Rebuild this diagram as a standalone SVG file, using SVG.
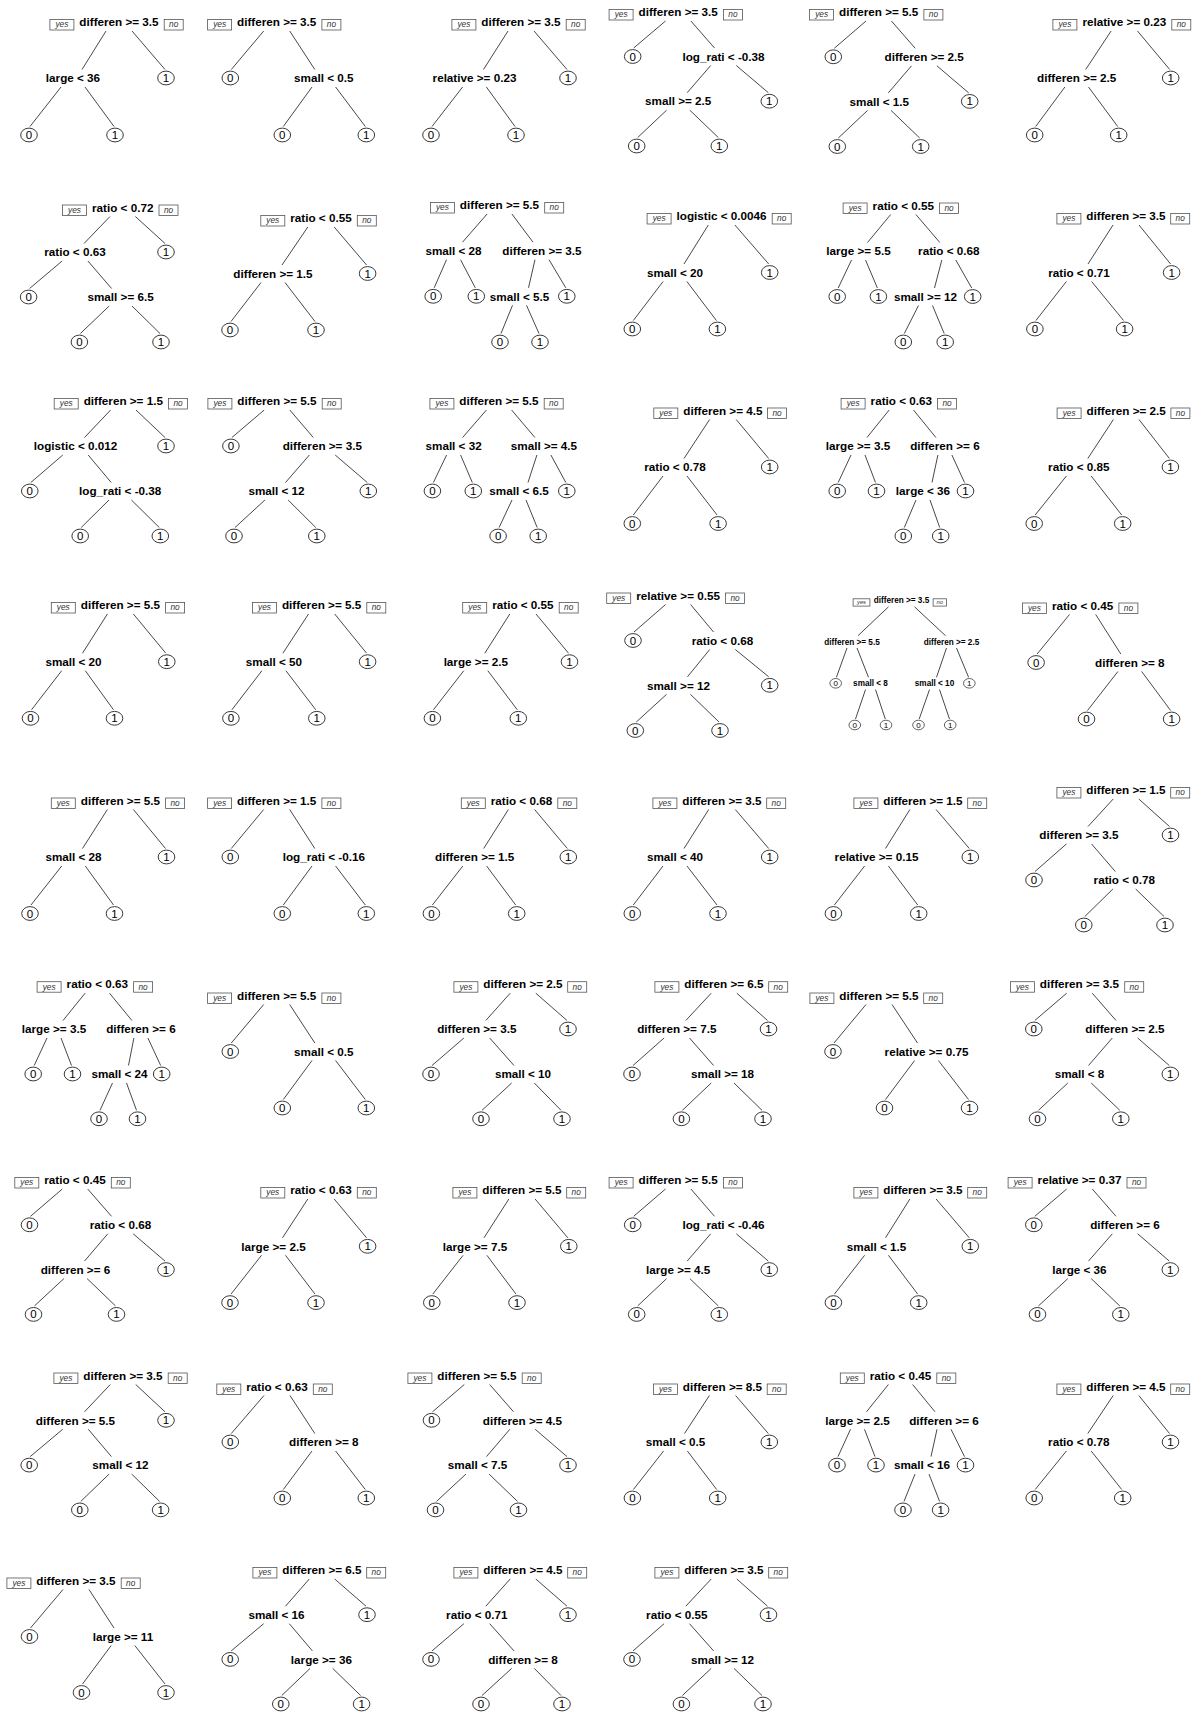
<svg xmlns="http://www.w3.org/2000/svg" xmlns:xlink="http://www.w3.org/1999/xlink" width="1192" height="1714" viewBox="0 0 1192 1714">
<style>
.sp{font-family:"Liberation Sans",Arial,sans-serif;font-weight:bold;font-size:11.7px;text-anchor:middle;fill:#000}
.ss{font-family:"Liberation Sans",Arial,sans-serif;font-weight:bold;font-size:8.2px;text-anchor:middle;fill:#000}
.y{fill:#fff;stroke:#555;stroke-width:0.8}
.t{font-family:"Liberation Sans",Arial,sans-serif;font-style:italic;font-size:8.3px;text-anchor:middle;fill:#333}
.ts{font-family:"Liberation Sans",Arial,sans-serif;font-style:italic;font-size:5.8px;text-anchor:middle;fill:#333}
#connectors path{fill:none;stroke:#333;stroke-width:0.9}
</style>
<defs>
<g id="L0"><ellipse rx="8.3" ry="6.9" fill="#fff" stroke="#222" stroke-width="0.9"/><text y="4" font-family="Liberation Sans, Arial, sans-serif" font-size="11.5" text-anchor="middle" fill="#000">0</text></g>
<g id="L1"><ellipse rx="8.3" ry="6.9" fill="#fff" stroke="#222" stroke-width="0.9"/><text y="4" font-family="Liberation Sans, Arial, sans-serif" font-size="11.5" text-anchor="middle" fill="#000">1</text></g>
<g id="S0"><ellipse rx="5.8" ry="4.8" fill="#fff" stroke="#222" stroke-width="0.7"/><text y="2.9" font-family="Liberation Sans, Arial, sans-serif" font-size="8" text-anchor="middle" fill="#000">0</text></g>
<g id="S1"><ellipse rx="5.8" ry="4.8" fill="#fff" stroke="#222" stroke-width="0.7"/><text y="2.9" font-family="Liberation Sans, Arial, sans-serif" font-size="8" text-anchor="middle" fill="#000">1</text></g>
</defs>
<rect width="1192" height="1714" fill="#fff"/>
<g id="connectors">
<path id="e1" d="M106 31L82 69.5M132 31L165 69.5M61 87L30 126.5M85 87L114 126.5"/>
<path id="e2" d="M263.7 31L231.3 69.5M289.7 31L314.8 69.5M312 87L283.3 126.5M335.6 87L365.3 126.5"/>
<path id="e3" d="M508 31L483.5 69.5M534 31L567 69.5M462.6 87L432 126.5M486.4 87L515 126.5"/>
<path id="e4" d="M665.5 21L633.7 48M690.9 21L714.5 48M710.7 65.5L687.2 92.7M736.3 65.5L768.3 92.7M666.6 110.2L637.7 137.5M689.8 110.2L718.3 137.5"/>
<path id="e5" d="M866 21L834.3 48.3M891.4 21L915.2 48.3M911.5 65.8L888.3 92.9M936.9 65.8L968.7 92.9M867.6 110.4L838.3 138M891 110.4L919.7 138"/>
<path id="e6" d="M1111.1 31L1085.7 69.5M1137.5 31L1169.7 69.5M1064.9 87L1035.7 126.5M1088.5 87L1117.7 126.5"/>
<path id="e7" d="M110 216.5L84 243.5M135.4 216.5L165 243.5M62.1 261L29.6 288.5M87.9 261L111.6 288.5M109.2 306L80.4 333.5M132 306L160 333.5"/>
<path id="e8" d="M307.8 227L282 265M334.2 227L366.6 265M261 282.5L231 321.5M285 282.5L315 321.5"/>
<path id="e9" d="M487.1 214L462.5 242.2M511.9 214L533 242.2M446.5 259.7L434.2 287.8M460.5 259.7L475.3 287.8M535 259.7L528.5 287.8M549 259.7L565.8 287.8M512.5 305.3L501 333.5M526.5 305.3L539 333.5"/>
<path id="e10" d="M708.3 225L684 264M734.9 225L768.7 264M663.1 281.5L633.3 320.5M686.9 281.5L716.4 320.5"/>
<path id="e11" d="M890.7 214.5L867.5 242.5M915.9 214.5L939.8 242.5M851.5 260L838.2 288M865.5 260L877.4 288M941.8 260L934.5 288M955.8 260L971.7 288M918.5 305.5L904.3 333.5M932.5 305.5L944.2 333.5"/>
<path id="e12" d="M1113 225L1088 264M1139 225L1170.6 264M1066.4 281.5L1035.9 320.5M1091.6 281.5L1123.6 320.5"/>
<path id="e13" d="M110.6 410L84.5 437.5M136 410L165 437.5M62.8 455L30.8 482.5M88.2 455L111.2 482.5M109 500L81.2 527.5M131.4 500L159.3 527.5"/>
<path id="e14" d="M264.2 410L231.9 437.5M289.8 410L313.3 437.5M309.4 455L285.5 482.5M335.2 455L367.3 482.5M264.9 500L235 527.5M288.1 500L315.8 527.5"/>
<path id="e15" d="M486.4 410L462.6 437.5M511.6 410L534.9 437.5M446.6 455L433.4 482.5M460.6 455L472.3 482.5M536.9 455L528 482.5M550.9 455L565.8 482.5M512 500L499.1 527.5M526 500L537.2 527.5"/>
<path id="e16" d="M709.6 419.5L684 458.5M736.2 419.5L768.7 458.5M663 476L633.3 515M687 476L717.1 515"/>
<path id="e17" d="M889.1 410L867 437.5M913.5 410L935.9 437.5M851 455L838.2 482.5M865 455L875.5 482.5M937.9 455L932 482.5M951.9 455L964.5 482.5M916 500L904.3 527.5M930 500L939.7 527.5"/>
<path id="e18" d="M1113.4 419.5L1087.8 458.5M1139 419.5L1169.4 458.5M1066.4 476L1035.2 515M1091.2 476L1121.7 515"/>
<path id="e19" d="M107.4 614L82.5 653.2M133.4 614L165.8 653.2M61.7 670.7L31.5 709.8M85.3 670.7L113.5 709.8"/>
<path id="e20" d="M308.5 614L282.9 653.2M334.7 614L366.6 653.2M261.9 670.7L231.9 709.8M285.9 670.7L315.8 709.8"/>
<path id="e21" d="M509.8 614L484.8 653.2M536 614L568.5 653.2M463.8 670.7L433.4 709.8M487.8 670.7L517.3 709.8"/>
<path id="e22" d="M665.6 604.5L634 632M690.6 604.5L713.5 632M709.7 649.5L687.5 676.8M735.3 649.5L768.7 676.8M666.6 694.3L636.3 722M690.4 694.3L719 722"/>
<path id="e23" d="M888.5 606.8L858 635.7M914.5 606.8L945.5 635.7M847 648L836.4 677.3M857 648L868.5 677.3M946.5 648L936.5 677.3M956.5 648L968.6 677.3M865.5 689.6L855.5 719M875.5 689.6L885.3 719M929.5 689.6L919.2 719M939.5 689.6L949.5 719"/>
<path id="e24" d="M1069.5 614.5L1037.1 654M1095.7 614.5L1120.8 654M1117.9 671.5L1087.5 710.5M1141.7 671.5L1170.6 710.5"/>
<path id="e25" d="M107.4 809.5L82.5 848.5M133.4 809.5L165.5 848.5M61.7 866L31 905M85.3 866L113.5 905"/>
<path id="e26" d="M263.7 809.5L231.3 848.5M289.7 809.5L314.8 848.5M312 866L283.3 905M335.6 866L365.3 905"/>
<path id="e27" d="M508.4 809.5L483.7 848.5M534.6 809.5L567.3 848.5M462.8 866L432.4 905M486.6 866L515.7 905"/>
<path id="e28" d="M708.7 809.5L684 848.5M735.3 809.5L768.7 848.5M663 866L633.3 905M687 866L717 905"/>
<path id="e29" d="M909.9 809.5L885.5 848.5M936.1 809.5L969.3 848.5M864.6 866L834.4 905M888.4 866L917.7 905"/>
<path id="e30" d="M1113.2 799L1088 826.5M1138.8 799L1169.5 826.5M1066.4 844L1035 871.5M1091.6 844L1115.3 871.5M1112.9 889L1084.8 916.5M1135.7 889L1164 916.5"/>
<path id="e31" d="M85.1 993.2L63 1020.5M109.5 993.2L131.9 1020.5M47 1038L34.2 1065.5M61 1038L71.5 1065.5M133.9 1038L128.5 1065.5M147.9 1038L160.7 1065.5M112.5 1083L100 1110.3M126.5 1083L136.5 1110.3"/>
<path id="e32" d="M263.7 1004.5L231.3 1043M289.7 1004.5L314.8 1043M312 1060.5L283.3 1099.5M335.6 1060.5L365.3 1099.5"/>
<path id="e33" d="M510.2 993.2L485.8 1020.5M535.8 993.2L567 1020.5M463.9 1038L432 1065.5M489.7 1038L514 1065.5M511.7 1083L482 1110.3M534.3 1083L561 1110.3"/>
<path id="e34" d="M711.2 993.2L685.8 1020.5M736.8 993.2L767.5 1020.5M664.1 1038L633 1065.5M689.5 1038L713.6 1065.5M711.2 1083L682.4 1110.3M734 1083L762 1110.3"/>
<path id="e35" d="M866 1004.5L834 1043M892 1004.5L917.5 1043M914.6 1060.5L885.5 1099.5M938.4 1060.5L968.5 1099.5"/>
<path id="e36" d="M1066.7 993.2L1034.8 1020.5M1092.3 993.2L1116 1020.5M1112.3 1038L1088.5 1065.5M1137.7 1038L1169.3 1065.5M1067.8 1083L1038.5 1110.3M1091.2 1083L1119.8 1110.3"/>
<path id="e37" d="M62.3 1189L30.5 1216.3M87.7 1189L111.5 1216.3M107.8 1233.8L84.5 1261.1M133.2 1233.8L165 1261.1M63.9 1278.6L34.5 1305.9M87.1 1278.6L115.5 1305.9"/>
<path id="e38" d="M307.8 1199L282.5 1237.8M334.2 1199L366.6 1237.8M261.5 1255.3L231 1294.1M285.5 1255.3L315 1294.1"/>
<path id="e39" d="M508.9 1199L484 1237.8M535.1 1199L567.8 1237.8M463.1 1255.3L432.8 1294.1M486.9 1255.3L516 1294.1"/>
<path id="e40" d="M665.5 1189L633.7 1216.3M690.9 1189L714.5 1216.3M710.7 1233.8L687.2 1261.1M736.3 1233.8L768.3 1261.1M666.6 1278.6L637.7 1305.9M689.8 1278.6L718.3 1305.9"/>
<path id="e41" d="M909.9 1199L885.5 1237.8M936.1 1199L969.3 1237.8M864.6 1255.3L834.4 1294.1M888.4 1255.3L917.7 1294.1"/>
<path id="e42" d="M1066.7 1189L1034.8 1216.3M1092.3 1189L1116 1216.3M1112.3 1233.8L1088.5 1261.1M1137.7 1233.8L1169.3 1261.1M1067.8 1278.6L1038.5 1305.9M1091.2 1278.6L1119.8 1305.9"/>
<path id="e43" d="M110.3 1384.5L84.5 1411.8M135.7 1384.5L165 1411.8M62.7 1429.3L30.2 1456.6M88.3 1429.3L111.4 1456.6M109.1 1474.1L80.8 1501.4M131.7 1474.1L159.6 1501.4"/>
<path id="e44" d="M264 1395.5L231.3 1433.5M290 1395.5L314.8 1433.5M312 1451L283.3 1489.5M335.6 1451L365.3 1489.5"/>
<path id="e45" d="M464.3 1384.5L432.5 1411.8M489.7 1384.5L513.5 1411.8M509.8 1429.3L486.5 1456.6M535.2 1429.3L567 1456.6M465.9 1474.1L436.5 1501.4M489.1 1474.1L517.5 1501.4"/>
<path id="e46" d="M709.4 1395.5L684.5 1433.5M735.6 1395.5L768.3 1433.5M663.6 1451L633.4 1489.5M687.4 1451L716.7 1489.5"/>
<path id="e47" d="M888.4 1384.5L866.5 1411.8M912.6 1384.5L935 1411.8M850.5 1429.3L838 1456.6M864.5 1429.3L875 1456.6M937 1429.3L931 1456.6M951 1429.3L964.5 1456.6M915 1474.1L904 1501.4M929 1474.1L939.6 1501.4"/>
<path id="e48" d="M1113.2 1395.5L1087.8 1433.5M1138.8 1395.5L1169.5 1433.5M1066.4 1451L1035.2 1489.5M1091.2 1451L1121.7 1489.5"/>
<path id="e49" d="M63 1589.5L30.5 1628M89 1589.5L114 1628M111.2 1645.5L82.5 1684M134.8 1645.5L165 1684"/>
<path id="e50" d="M309.3 1579L285.5 1606.2M334.7 1579L366 1606.2M263.7 1623.7L231.2 1650.9M289.3 1623.7L312.4 1650.9M310.1 1668.4L281.8 1695.5M332.7 1668.4L360.6 1695.5"/>
<path id="e51" d="M510.2 1579L485.8 1606.2M535.8 1579L567 1606.2M463.9 1623.7L432 1650.9M489.7 1623.7L514 1650.9M511.7 1668.4L482 1695.5M534.3 1668.4L561 1695.5"/>
<path id="e52" d="M711.2 1579L685.8 1606.2M736.8 1579L767.5 1606.2M664.1 1623.7L633 1650.9M689.5 1623.7L713.6 1650.9M711.2 1668.4L682.4 1695.5M734 1668.4L762 1695.5"/>
</g>

<g id="t1">
<g id="t1-1"><rect class="y" x="49.9" y="19.5" width="24" height="10.5"/><text class="t" x="61.9" y="27.3">yes</text><text class="sp" x="119" y="26.2">differen &gt;= 3.5</text><rect class="y" x="164.2" y="19.5" width="19" height="10.5"/><text class="t" x="173.7" y="27.3">no</text></g>
<g id="t1-2"><text class="sp" x="73" y="82.2">large &lt; 36</text></g>
<g id="t1-3"><use href="#L1" x="166" y="78"/></g>
<g id="t1-4"><use href="#L0" x="29" y="135"/></g>
<g id="t1-5"><use href="#L1" x="115" y="135"/></g>
</g>
<g id="t2">
<g id="t2-1"><rect class="y" x="207.6" y="19.5" width="24" height="10.5"/><text class="t" x="219.6" y="27.3">yes</text><text class="sp" x="276.7" y="26.2">differen &gt;= 3.5</text><rect class="y" x="321.9" y="19.5" width="19" height="10.5"/><text class="t" x="331.4" y="27.3">no</text></g>
<g id="t2-2"><use href="#L0" x="230.3" y="78"/></g>
<g id="t2-3"><text class="sp" x="323.8" y="82.2">small &lt; 0.5</text></g>
<g id="t2-4"><use href="#L0" x="282.3" y="135"/></g>
<g id="t2-5"><use href="#L1" x="366.3" y="135"/></g>
</g>
<g id="t3">
<g id="t3-1"><rect class="y" x="451.9" y="19.5" width="24" height="10.5"/><text class="t" x="463.9" y="27.3">yes</text><text class="sp" x="521" y="26.2">differen &gt;= 3.5</text><rect class="y" x="566.2" y="19.5" width="19" height="10.5"/><text class="t" x="575.7" y="27.3">no</text></g>
<g id="t3-2"><text class="sp" x="474.5" y="82.2">relative &gt;= 0.23</text></g>
<g id="t3-3"><use href="#L1" x="568" y="78"/></g>
<g id="t3-4"><use href="#L0" x="431" y="135"/></g>
<g id="t3-5"><use href="#L1" x="516" y="135"/></g>
</g>
<g id="t4">
<g id="t4-1"><rect class="y" x="609.1" y="9.5" width="24" height="10.5"/><text class="t" x="621.1" y="17.3">yes</text><text class="sp" x="678.2" y="16.2">differen &gt;= 3.5</text><rect class="y" x="723.4" y="9.5" width="19" height="10.5"/><text class="t" x="732.9" y="17.3">no</text></g>
<g id="t4-2"><use href="#L0" x="632.7" y="56.5"/></g>
<g id="t4-3"><text class="sp" x="723.5" y="60.7">log_rati &lt; -0.38</text></g>
<g id="t4-4"><text class="sp" x="678.2" y="105.4">small &gt;= 2.5</text></g>
<g id="t4-5"><use href="#L1" x="769.3" y="101.2"/></g>
<g id="t4-6"><use href="#L0" x="636.7" y="146"/></g>
<g id="t4-7"><use href="#L1" x="719.3" y="146"/></g>
</g>
<g id="t5">
<g id="t5-1"><rect class="y" x="809.6" y="9.5" width="24" height="10.5"/><text class="t" x="821.6" y="17.3">yes</text><text class="sp" x="878.7" y="16.2">differen &gt;= 5.5</text><rect class="y" x="923.9" y="9.5" width="19" height="10.5"/><text class="t" x="933.4" y="17.3">no</text></g>
<g id="t5-2"><use href="#L0" x="833.3" y="56.8"/></g>
<g id="t5-3"><text class="sp" x="924.2" y="61">differen &gt;= 2.5</text></g>
<g id="t5-4"><text class="sp" x="879.3" y="105.6">small &lt; 1.5</text></g>
<g id="t5-5"><use href="#L1" x="969.7" y="101.4"/></g>
<g id="t5-6"><use href="#L0" x="837.3" y="146.5"/></g>
<g id="t5-7"><use href="#L1" x="920.7" y="146.5"/></g>
</g>
<g id="t6">
<g id="t6-1"><rect class="y" x="1052.9" y="19.5" width="24" height="10.5"/><text class="t" x="1064.9" y="27.3">yes</text><text class="sp" x="1124.3" y="26.2">relative &gt;= 0.23</text><rect class="y" x="1171.8" y="19.5" width="19" height="10.5"/><text class="t" x="1181.3" y="27.3">no</text></g>
<g id="t6-2"><text class="sp" x="1076.7" y="82.2">differen &gt;= 2.5</text></g>
<g id="t6-3"><use href="#L1" x="1170.7" y="78"/></g>
<g id="t6-4"><use href="#L0" x="1034.7" y="135"/></g>
<g id="t6-5"><use href="#L1" x="1118.7" y="135"/></g>
</g>

<g id="t7">
<g id="t7-1"><rect class="y" x="62.5" y="205" width="24" height="10.5"/><text class="t" x="74.5" y="212.8">yes</text><text class="sp" x="122.7" y="211.7">ratio &lt; 0.72</text><rect class="y" x="159" y="205" width="19" height="10.5"/><text class="t" x="168.5" y="212.8">no</text></g>
<g id="t7-2"><text class="sp" x="75" y="256.2">ratio &lt; 0.63</text></g>
<g id="t7-3"><use href="#L1" x="166" y="252"/></g>
<g id="t7-4"><use href="#L0" x="28.6" y="297"/></g>
<g id="t7-5"><text class="sp" x="120.6" y="301.2">small &gt;= 6.5</text></g>
<g id="t7-6"><use href="#L0" x="79.4" y="342"/></g>
<g id="t7-7"><use href="#L1" x="161" y="342"/></g>
</g>
<g id="t8">
<g id="t8-1"><rect class="y" x="260.8" y="215.5" width="24" height="10.5"/><text class="t" x="272.8" y="223.3">yes</text><text class="sp" x="321" y="222.2">ratio &lt; 0.55</text><rect class="y" x="357.3" y="215.5" width="19" height="10.5"/><text class="t" x="366.8" y="223.3">no</text></g>
<g id="t8-2"><text class="sp" x="273" y="277.7">differen &gt;= 1.5</text></g>
<g id="t8-3"><use href="#L1" x="367.6" y="273.5"/></g>
<g id="t8-4"><use href="#L0" x="230" y="330"/></g>
<g id="t8-5"><use href="#L1" x="316" y="330"/></g>
</g>
<g id="t9">
<g id="t9-1"><rect class="y" x="430.4" y="202.5" width="24" height="10.5"/><text class="t" x="442.4" y="210.3">yes</text><text class="sp" x="499.5" y="209.2">differen &gt;= 5.5</text><rect class="y" x="544.7" y="202.5" width="19" height="10.5"/><text class="t" x="554.2" y="210.3">no</text></g>
<g id="t9-2"><text class="sp" x="453.5" y="254.9">small &lt; 28</text></g>
<g id="t9-3"><text class="sp" x="542" y="254.9">differen &gt;= 3.5</text></g>
<g id="t9-4"><use href="#L0" x="433.2" y="296.3"/></g>
<g id="t9-5"><use href="#L1" x="476.3" y="296.3"/></g>
<g id="t9-6"><text class="sp" x="519.5" y="300.5">small &lt; 5.5</text></g>
<g id="t9-7"><use href="#L1" x="566.8" y="296.3"/></g>
<g id="t9-8"><use href="#L0" x="500" y="342"/></g>
<g id="t9-9"><use href="#L1" x="540" y="342"/></g>
</g>
<g id="t10">
<g id="t10-1"><rect class="y" x="647.1" y="213.5" width="24" height="10.5"/><text class="t" x="659.1" y="221.3">yes</text><text class="sp" x="721.6" y="220.2">logistic &lt; 0.0046</text><rect class="y" x="772.2" y="213.5" width="19" height="10.5"/><text class="t" x="781.7" y="221.3">no</text></g>
<g id="t10-2"><text class="sp" x="675" y="276.7">small &lt; 20</text></g>
<g id="t10-3"><use href="#L1" x="769.7" y="272.5"/></g>
<g id="t10-4"><use href="#L0" x="632.3" y="329"/></g>
<g id="t10-5"><use href="#L1" x="717.4" y="329"/></g>
</g>
<g id="t11">
<g id="t11-1"><rect class="y" x="843.1" y="203" width="24" height="10.5"/><text class="t" x="855.1" y="210.8">yes</text><text class="sp" x="903.3" y="209.7">ratio &lt; 0.55</text><rect class="y" x="939.6" y="203" width="19" height="10.5"/><text class="t" x="949.1" y="210.8">no</text></g>
<g id="t11-2"><text class="sp" x="858.5" y="255.2">large &gt;= 5.5</text></g>
<g id="t11-3"><text class="sp" x="948.8" y="255.2">ratio &lt; 0.68</text></g>
<g id="t11-4"><use href="#L0" x="837.2" y="296.5"/></g>
<g id="t11-5"><use href="#L1" x="878.4" y="296.5"/></g>
<g id="t11-6"><text class="sp" x="925.5" y="300.7">small &gt;= 12</text></g>
<g id="t11-7"><use href="#L1" x="972.7" y="296.5"/></g>
<g id="t11-8"><use href="#L0" x="903.3" y="342"/></g>
<g id="t11-9"><use href="#L1" x="945.2" y="342"/></g>
</g>
<g id="t12">
<g id="t12-1"><rect class="y" x="1056.9" y="213.5" width="24" height="10.5"/><text class="t" x="1068.9" y="221.3">yes</text><text class="sp" x="1126" y="220.2">differen &gt;= 3.5</text><rect class="y" x="1170.7" y="213.5" width="19" height="10.5"/><text class="t" x="1180.2" y="221.3">no</text></g>
<g id="t12-2"><text class="sp" x="1079" y="276.7">ratio &lt; 0.71</text></g>
<g id="t12-3"><use href="#L1" x="1171.6" y="272.5"/></g>
<g id="t12-4"><use href="#L0" x="1034.9" y="329"/></g>
<g id="t12-5"><use href="#L1" x="1124.6" y="329"/></g>
</g>

<g id="t13">
<g id="t13-1"><rect class="y" x="54.2" y="398.5" width="24" height="10.5"/><text class="t" x="66.2" y="406.3">yes</text><text class="sp" x="123.3" y="405.2">differen &gt;= 1.5</text><rect class="y" x="168.5" y="398.5" width="19" height="10.5"/><text class="t" x="178" y="406.3">no</text></g>
<g id="t13-2"><text class="sp" x="75.5" y="450.2">logistic &lt; 0.012</text></g>
<g id="t13-3"><use href="#L1" x="166" y="446"/></g>
<g id="t13-4"><use href="#L0" x="29.8" y="491"/></g>
<g id="t13-5"><text class="sp" x="120.2" y="495.2">log_rati &lt; -0.38</text></g>
<g id="t13-6"><use href="#L0" x="80.2" y="536"/></g>
<g id="t13-7"><use href="#L1" x="160.3" y="536"/></g>
</g>
<g id="t14">
<g id="t14-1"><rect class="y" x="207.9" y="398.5" width="24" height="10.5"/><text class="t" x="219.9" y="406.3">yes</text><text class="sp" x="277" y="405.2">differen &gt;= 5.5</text><rect class="y" x="322.2" y="398.5" width="19" height="10.5"/><text class="t" x="331.7" y="406.3">no</text></g>
<g id="t14-2"><use href="#L0" x="230.9" y="446"/></g>
<g id="t14-3"><text class="sp" x="322.3" y="450.2">differen &gt;= 3.5</text></g>
<g id="t14-4"><text class="sp" x="276.5" y="495.2">small &lt; 12</text></g>
<g id="t14-5"><use href="#L1" x="368.3" y="491"/></g>
<g id="t14-6"><use href="#L0" x="234" y="536"/></g>
<g id="t14-7"><use href="#L1" x="316.8" y="536"/></g>
</g>
<g id="t15">
<g id="t15-1"><rect class="y" x="429.9" y="398.5" width="24" height="10.5"/><text class="t" x="441.9" y="406.3">yes</text><text class="sp" x="499" y="405.2">differen &gt;= 5.5</text><rect class="y" x="544.2" y="398.5" width="19" height="10.5"/><text class="t" x="553.7" y="406.3">no</text></g>
<g id="t15-2"><text class="sp" x="453.6" y="450.2">small &lt; 32</text></g>
<g id="t15-3"><text class="sp" x="543.9" y="450.2">small &gt;= 4.5</text></g>
<g id="t15-4"><use href="#L0" x="432.4" y="491"/></g>
<g id="t15-5"><use href="#L1" x="473.3" y="491"/></g>
<g id="t15-6"><text class="sp" x="519" y="495.2">small &lt; 6.5</text></g>
<g id="t15-7"><use href="#L1" x="566.8" y="491"/></g>
<g id="t15-8"><use href="#L0" x="498.1" y="536"/></g>
<g id="t15-9"><use href="#L1" x="538.2" y="536"/></g>
</g>
<g id="t16">
<g id="t16-1"><rect class="y" x="653.8" y="408" width="24" height="10.5"/><text class="t" x="665.8" y="415.8">yes</text><text class="sp" x="722.9" y="414.7">differen &gt;= 4.5</text><rect class="y" x="767.6" y="408" width="19" height="10.5"/><text class="t" x="777.1" y="415.8">no</text></g>
<g id="t16-2"><text class="sp" x="675" y="471.2">ratio &lt; 0.78</text></g>
<g id="t16-3"><use href="#L1" x="769.7" y="467"/></g>
<g id="t16-4"><use href="#L0" x="632.3" y="523.5"/></g>
<g id="t16-5"><use href="#L1" x="718.1" y="523.5"/></g>
</g>
<g id="t17">
<g id="t17-1"><rect class="y" x="841.1" y="398.5" width="24" height="10.5"/><text class="t" x="853.1" y="406.3">yes</text><text class="sp" x="901.3" y="405.2">ratio &lt; 0.63</text><rect class="y" x="937.6" y="398.5" width="19" height="10.5"/><text class="t" x="947.1" y="406.3">no</text></g>
<g id="t17-2"><text class="sp" x="858" y="450.2">large &gt;= 3.5</text></g>
<g id="t17-3"><text class="sp" x="944.9" y="450.2">differen &gt;= 6</text></g>
<g id="t17-4"><use href="#L0" x="837.2" y="491"/></g>
<g id="t17-5"><use href="#L1" x="876.5" y="491"/></g>
<g id="t17-6"><text class="sp" x="923" y="495.2">large &lt; 36</text></g>
<g id="t17-7"><use href="#L1" x="965.5" y="491"/></g>
<g id="t17-8"><use href="#L0" x="903.3" y="536"/></g>
<g id="t17-9"><use href="#L1" x="940.7" y="536"/></g>
</g>
<g id="t18">
<g id="t18-1"><rect class="y" x="1057.1" y="408" width="24" height="10.5"/><text class="t" x="1069.1" y="415.8">yes</text><text class="sp" x="1126.2" y="414.7">differen &gt;= 2.5</text><rect class="y" x="1170.9" y="408" width="19" height="10.5"/><text class="t" x="1180.4" y="415.8">no</text></g>
<g id="t18-2"><text class="sp" x="1078.8" y="471.2">ratio &lt; 0.85</text></g>
<g id="t18-3"><use href="#L1" x="1170.4" y="467"/></g>
<g id="t18-4"><use href="#L0" x="1034.2" y="523.5"/></g>
<g id="t18-5"><use href="#L1" x="1122.7" y="523.5"/></g>
</g>

<g id="t19">
<g id="t19-1"><rect class="y" x="51.3" y="602.5" width="24" height="10.5"/><text class="t" x="63.3" y="610.3">yes</text><text class="sp" x="120.4" y="609.2">differen &gt;= 5.5</text><rect class="y" x="165.6" y="602.5" width="19" height="10.5"/><text class="t" x="175.1" y="610.3">no</text></g>
<g id="t19-2"><text class="sp" x="73.5" y="665.9">small &lt; 20</text></g>
<g id="t19-3"><use href="#L1" x="166.8" y="661.7"/></g>
<g id="t19-4"><use href="#L0" x="30.5" y="718.3"/></g>
<g id="t19-5"><use href="#L1" x="114.5" y="718.3"/></g>
</g>
<g id="t20">
<g id="t20-1"><rect class="y" x="252.5" y="602.5" width="24" height="10.5"/><text class="t" x="264.5" y="610.3">yes</text><text class="sp" x="321.6" y="609.2">differen &gt;= 5.5</text><rect class="y" x="366.8" y="602.5" width="19" height="10.5"/><text class="t" x="376.3" y="610.3">no</text></g>
<g id="t20-2"><text class="sp" x="273.9" y="665.9">small &lt; 50</text></g>
<g id="t20-3"><use href="#L1" x="367.6" y="661.7"/></g>
<g id="t20-4"><use href="#L0" x="230.9" y="718.3"/></g>
<g id="t20-5"><use href="#L1" x="316.8" y="718.3"/></g>
</g>
<g id="t21">
<g id="t21-1"><rect class="y" x="462.7" y="602.5" width="24" height="10.5"/><text class="t" x="474.7" y="610.3">yes</text><text class="sp" x="522.9" y="609.2">ratio &lt; 0.55</text><rect class="y" x="559.2" y="602.5" width="19" height="10.5"/><text class="t" x="568.7" y="610.3">no</text></g>
<g id="t21-2"><text class="sp" x="475.8" y="665.9">large &gt;= 2.5</text></g>
<g id="t21-3"><use href="#L1" x="569.5" y="661.7"/></g>
<g id="t21-4"><use href="#L0" x="432.4" y="718.3"/></g>
<g id="t21-5"><use href="#L1" x="518.3" y="718.3"/></g>
</g>
<g id="t22">
<g id="t22-1"><rect class="y" x="606.7" y="593" width="24" height="10.5"/><text class="t" x="618.7" y="600.8">yes</text><text class="sp" x="678.1" y="599.7">relative &gt;= 0.55</text><rect class="y" x="725.6" y="593" width="19" height="10.5"/><text class="t" x="735.1" y="600.8">no</text></g>
<g id="t22-2"><use href="#L0" x="633" y="640.5"/></g>
<g id="t22-3"><text class="sp" x="722.5" y="644.7">ratio &lt; 0.68</text></g>
<g id="t22-4"><text class="sp" x="678.5" y="689.5">small &gt;= 12</text></g>
<g id="t22-5"><use href="#L1" x="769.7" y="685.3"/></g>
<g id="t22-6"><use href="#L0" x="635.3" y="730.5"/></g>
<g id="t22-7"><use href="#L1" x="720" y="730.5"/></g>
</g>
<g id="t23">
<g id="t23-1"><rect class="y" x="853.1" y="598.8" width="16.8" height="7.3"/><text class="ts" x="861.5" y="604.2">yes</text><text class="ss" x="901.5" y="603.4">differen &gt;= 3.5</text><rect class="y" x="933.1" y="598.8" width="13.3" height="7.3"/><text class="ts" x="939.8" y="604.2">no</text></g>
<g id="t23-2"><text class="ss" x="852" y="644.6">differen &gt;= 5.5</text></g>
<g id="t23-3"><text class="ss" x="951.5" y="644.6">differen &gt;= 2.5</text></g>
<g id="t23-4"><use href="#S0" x="835.7" y="683.3"/></g>
<g id="t23-5"><text class="ss" x="870.5" y="686.2">small &lt; 8</text></g>
<g id="t23-6"><text class="ss" x="934.5" y="686.2">small &lt; 10</text></g>
<g id="t23-7"><use href="#S1" x="969.3" y="683.3"/></g>
<g id="t23-8"><use href="#S0" x="854.8" y="725"/></g>
<g id="t23-9"><use href="#S1" x="886" y="725"/></g>
<g id="t23-10"><use href="#S0" x="918.5" y="725"/></g>
<g id="t23-11"><use href="#S1" x="950.2" y="725"/></g>
</g>
<g id="t24">
<g id="t24-1"><rect class="y" x="1022.4" y="603" width="24" height="10.5"/><text class="t" x="1034.4" y="610.8">yes</text><text class="sp" x="1082.6" y="609.7">ratio &lt; 0.45</text><rect class="y" x="1118.9" y="603" width="19" height="10.5"/><text class="t" x="1128.4" y="610.8">no</text></g>
<g id="t24-2"><use href="#L0" x="1036.1" y="662.5"/></g>
<g id="t24-3"><text class="sp" x="1129.8" y="666.7">differen &gt;= 8</text></g>
<g id="t24-4"><use href="#L0" x="1086.5" y="719"/></g>
<g id="t24-5"><use href="#L1" x="1171.6" y="719"/></g>
</g>

<g id="t25">
<g id="t25-1"><rect class="y" x="51.3" y="798" width="24" height="10.5"/><text class="t" x="63.3" y="805.8">yes</text><text class="sp" x="120.4" y="804.7">differen &gt;= 5.5</text><rect class="y" x="165.6" y="798" width="19" height="10.5"/><text class="t" x="175.1" y="805.8">no</text></g>
<g id="t25-2"><text class="sp" x="73.5" y="861.2">small &lt; 28</text></g>
<g id="t25-3"><use href="#L1" x="166.5" y="857"/></g>
<g id="t25-4"><use href="#L0" x="30" y="913.5"/></g>
<g id="t25-5"><use href="#L1" x="114.5" y="913.5"/></g>
</g>
<g id="t26">
<g id="t26-1"><rect class="y" x="207.6" y="798" width="24" height="10.5"/><text class="t" x="219.6" y="805.8">yes</text><text class="sp" x="276.7" y="804.7">differen &gt;= 1.5</text><rect class="y" x="321.9" y="798" width="19" height="10.5"/><text class="t" x="331.4" y="805.8">no</text></g>
<g id="t26-2"><use href="#L0" x="230.3" y="857"/></g>
<g id="t26-3"><text class="sp" x="323.8" y="861.2">log_rati &lt; -0.16</text></g>
<g id="t26-4"><use href="#L0" x="282.3" y="913.5"/></g>
<g id="t26-5"><use href="#L1" x="366.3" y="913.5"/></g>
</g>
<g id="t27">
<g id="t27-1"><rect class="y" x="461.3" y="798" width="24" height="10.5"/><text class="t" x="473.3" y="805.8">yes</text><text class="sp" x="521.5" y="804.7">ratio &lt; 0.68</text><rect class="y" x="557.8" y="798" width="19" height="10.5"/><text class="t" x="567.3" y="805.8">no</text></g>
<g id="t27-2"><text class="sp" x="474.7" y="861.2">differen &gt;= 1.5</text></g>
<g id="t27-3"><use href="#L1" x="568.3" y="857"/></g>
<g id="t27-4"><use href="#L0" x="431.4" y="913.5"/></g>
<g id="t27-5"><use href="#L1" x="516.7" y="913.5"/></g>
</g>
<g id="t28">
<g id="t28-1"><rect class="y" x="652.9" y="798" width="24" height="10.5"/><text class="t" x="664.9" y="805.8">yes</text><text class="sp" x="722" y="804.7">differen &gt;= 3.5</text><rect class="y" x="766.7" y="798" width="19" height="10.5"/><text class="t" x="776.2" y="805.8">no</text></g>
<g id="t28-2"><text class="sp" x="675" y="861.2">small &lt; 40</text></g>
<g id="t28-3"><use href="#L1" x="769.7" y="857"/></g>
<g id="t28-4"><use href="#L0" x="632.3" y="913.5"/></g>
<g id="t28-5"><use href="#L1" x="718" y="913.5"/></g>
</g>
<g id="t29">
<g id="t29-1"><rect class="y" x="853.9" y="798" width="24" height="10.5"/><text class="t" x="865.9" y="805.8">yes</text><text class="sp" x="923" y="804.7">differen &gt;= 1.5</text><rect class="y" x="967.7" y="798" width="19" height="10.5"/><text class="t" x="977.2" y="805.8">no</text></g>
<g id="t29-2"><text class="sp" x="876.5" y="861.2">relative &gt;= 0.15</text></g>
<g id="t29-3"><use href="#L1" x="970.3" y="857"/></g>
<g id="t29-4"><use href="#L0" x="833.4" y="913.5"/></g>
<g id="t29-5"><use href="#L1" x="918.7" y="913.5"/></g>
</g>
<g id="t30">
<g id="t30-1"><rect class="y" x="1056.9" y="787.5" width="24" height="10.5"/><text class="t" x="1068.9" y="795.3">yes</text><text class="sp" x="1126" y="794.2">differen &gt;= 1.5</text><rect class="y" x="1170.7" y="787.5" width="19" height="10.5"/><text class="t" x="1180.2" y="795.3">no</text></g>
<g id="t30-2"><text class="sp" x="1079" y="839.2">differen &gt;= 3.5</text></g>
<g id="t30-3"><use href="#L1" x="1170.5" y="835"/></g>
<g id="t30-4"><use href="#L0" x="1034" y="880"/></g>
<g id="t30-5"><text class="sp" x="1124.3" y="884.2">ratio &lt; 0.78</text></g>
<g id="t30-6"><use href="#L0" x="1083.8" y="925"/></g>
<g id="t30-7"><use href="#L1" x="1165" y="925"/></g>
</g>

<g id="t31">
<g id="t31-1"><rect class="y" x="37.1" y="981.7" width="24" height="10.5"/><text class="t" x="49.1" y="989.5">yes</text><text class="sp" x="97.3" y="988.4">ratio &lt; 0.63</text><rect class="y" x="133.6" y="981.7" width="19" height="10.5"/><text class="t" x="143.1" y="989.5">no</text></g>
<g id="t31-2"><text class="sp" x="54" y="1033.2">large &gt;= 3.5</text></g>
<g id="t31-3"><text class="sp" x="140.9" y="1033.2">differen &gt;= 6</text></g>
<g id="t31-4"><use href="#L0" x="33.2" y="1074"/></g>
<g id="t31-5"><use href="#L1" x="72.5" y="1074"/></g>
<g id="t31-6"><text class="sp" x="119.5" y="1078.2">small &lt; 24</text></g>
<g id="t31-7"><use href="#L1" x="161.7" y="1074"/></g>
<g id="t31-8"><use href="#L0" x="99" y="1118.8"/></g>
<g id="t31-9"><use href="#L1" x="137.5" y="1118.8"/></g>
</g>
<g id="t32">
<g id="t32-1"><rect class="y" x="207.6" y="993" width="24" height="10.5"/><text class="t" x="219.6" y="1000.8">yes</text><text class="sp" x="276.7" y="999.7">differen &gt;= 5.5</text><rect class="y" x="321.9" y="993" width="19" height="10.5"/><text class="t" x="331.4" y="1000.8">no</text></g>
<g id="t32-2"><use href="#L0" x="230.3" y="1051.5"/></g>
<g id="t32-3"><text class="sp" x="323.8" y="1055.7">small &lt; 0.5</text></g>
<g id="t32-4"><use href="#L0" x="282.3" y="1108"/></g>
<g id="t32-5"><use href="#L1" x="366.3" y="1108"/></g>
</g>
<g id="t33">
<g id="t33-1"><rect class="y" x="453.9" y="981.7" width="24" height="10.5"/><text class="t" x="465.9" y="989.5">yes</text><text class="sp" x="523" y="988.4">differen &gt;= 2.5</text><rect class="y" x="567.7" y="981.7" width="19" height="10.5"/><text class="t" x="577.2" y="989.5">no</text></g>
<g id="t33-2"><text class="sp" x="476.8" y="1033.2">differen &gt;= 3.5</text></g>
<g id="t33-3"><use href="#L1" x="568" y="1029"/></g>
<g id="t33-4"><use href="#L0" x="431" y="1074"/></g>
<g id="t33-5"><text class="sp" x="523" y="1078.2">small &lt; 10</text></g>
<g id="t33-6"><use href="#L0" x="481" y="1118.8"/></g>
<g id="t33-7"><use href="#L1" x="562" y="1118.8"/></g>
</g>
<g id="t34">
<g id="t34-1"><rect class="y" x="654.9" y="981.7" width="24" height="10.5"/><text class="t" x="666.9" y="989.5">yes</text><text class="sp" x="724" y="988.4">differen &gt;= 6.5</text><rect class="y" x="768.7" y="981.7" width="19" height="10.5"/><text class="t" x="778.2" y="989.5">no</text></g>
<g id="t34-2"><text class="sp" x="676.8" y="1033.2">differen &gt;= 7.5</text></g>
<g id="t34-3"><use href="#L1" x="768.5" y="1029"/></g>
<g id="t34-4"><use href="#L0" x="632" y="1074"/></g>
<g id="t34-5"><text class="sp" x="722.6" y="1078.2">small &gt;= 18</text></g>
<g id="t34-6"><use href="#L0" x="681.4" y="1118.8"/></g>
<g id="t34-7"><use href="#L1" x="763" y="1118.8"/></g>
</g>
<g id="t35">
<g id="t35-1"><rect class="y" x="809.9" y="993" width="24" height="10.5"/><text class="t" x="821.9" y="1000.8">yes</text><text class="sp" x="879" y="999.7">differen &gt;= 5.5</text><rect class="y" x="923.7" y="993" width="19" height="10.5"/><text class="t" x="933.2" y="1000.8">no</text></g>
<g id="t35-2"><use href="#L0" x="833" y="1051.5"/></g>
<g id="t35-3"><text class="sp" x="926.5" y="1055.7">relative &gt;= 0.75</text></g>
<g id="t35-4"><use href="#L0" x="884.5" y="1108"/></g>
<g id="t35-5"><use href="#L1" x="969.5" y="1108"/></g>
</g>
<g id="t36">
<g id="t36-1"><rect class="y" x="1010.4" y="981.7" width="24" height="10.5"/><text class="t" x="1022.4" y="989.5">yes</text><text class="sp" x="1079.5" y="988.4">differen &gt;= 3.5</text><rect class="y" x="1124.7" y="981.7" width="19" height="10.5"/><text class="t" x="1134.2" y="989.5">no</text></g>
<g id="t36-2"><use href="#L0" x="1033.8" y="1029"/></g>
<g id="t36-3"><text class="sp" x="1125" y="1033.2">differen &gt;= 2.5</text></g>
<g id="t36-4"><text class="sp" x="1079.5" y="1078.2">small &lt; 8</text></g>
<g id="t36-5"><use href="#L1" x="1170.3" y="1074"/></g>
<g id="t36-6"><use href="#L0" x="1037.5" y="1118.8"/></g>
<g id="t36-7"><use href="#L1" x="1120.8" y="1118.8"/></g>
</g>

<g id="t37">
<g id="t37-1"><rect class="y" x="14.8" y="1177.5" width="24" height="10.5"/><text class="t" x="26.8" y="1185.3">yes</text><text class="sp" x="75" y="1184.2">ratio &lt; 0.45</text><rect class="y" x="111.3" y="1177.5" width="19" height="10.5"/><text class="t" x="120.8" y="1185.3">no</text></g>
<g id="t37-2"><use href="#L0" x="29.5" y="1224.8"/></g>
<g id="t37-3"><text class="sp" x="120.5" y="1229">ratio &lt; 0.68</text></g>
<g id="t37-4"><text class="sp" x="75.5" y="1273.8">differen &gt;= 6</text></g>
<g id="t37-5"><use href="#L1" x="166" y="1269.6"/></g>
<g id="t37-6"><use href="#L0" x="33.5" y="1314.4"/></g>
<g id="t37-7"><use href="#L1" x="116.5" y="1314.4"/></g>
</g>
<g id="t38">
<g id="t38-1"><rect class="y" x="260.8" y="1187.5" width="24" height="10.5"/><text class="t" x="272.8" y="1195.3">yes</text><text class="sp" x="321" y="1194.2">ratio &lt; 0.63</text><rect class="y" x="357.3" y="1187.5" width="19" height="10.5"/><text class="t" x="366.8" y="1195.3">no</text></g>
<g id="t38-2"><text class="sp" x="273.5" y="1250.5">large &gt;= 2.5</text></g>
<g id="t38-3"><use href="#L1" x="367.6" y="1246.3"/></g>
<g id="t38-4"><use href="#L0" x="230" y="1302.6"/></g>
<g id="t38-5"><use href="#L1" x="316" y="1302.6"/></g>
</g>
<g id="t39">
<g id="t39-1"><rect class="y" x="452.9" y="1187.5" width="24" height="10.5"/><text class="t" x="464.9" y="1195.3">yes</text><text class="sp" x="522" y="1194.2">differen &gt;= 5.5</text><rect class="y" x="566.7" y="1187.5" width="19" height="10.5"/><text class="t" x="576.2" y="1195.3">no</text></g>
<g id="t39-2"><text class="sp" x="475" y="1250.5">large &gt;= 7.5</text></g>
<g id="t39-3"><use href="#L1" x="568.8" y="1246.3"/></g>
<g id="t39-4"><use href="#L0" x="431.8" y="1302.6"/></g>
<g id="t39-5"><use href="#L1" x="517" y="1302.6"/></g>
</g>
<g id="t40">
<g id="t40-1"><rect class="y" x="609.1" y="1177.5" width="24" height="10.5"/><text class="t" x="621.1" y="1185.3">yes</text><text class="sp" x="678.2" y="1184.2">differen &gt;= 5.5</text><rect class="y" x="723.4" y="1177.5" width="19" height="10.5"/><text class="t" x="732.9" y="1185.3">no</text></g>
<g id="t40-2"><use href="#L0" x="632.7" y="1224.8"/></g>
<g id="t40-3"><text class="sp" x="723.5" y="1229">log_rati &lt; -0.46</text></g>
<g id="t40-4"><text class="sp" x="678.2" y="1273.8">large &gt;= 4.5</text></g>
<g id="t40-5"><use href="#L1" x="769.3" y="1269.6"/></g>
<g id="t40-6"><use href="#L0" x="636.7" y="1314.4"/></g>
<g id="t40-7"><use href="#L1" x="719.3" y="1314.4"/></g>
</g>
<g id="t41">
<g id="t41-1"><rect class="y" x="853.9" y="1187.5" width="24" height="10.5"/><text class="t" x="865.9" y="1195.3">yes</text><text class="sp" x="923" y="1194.2">differen &gt;= 3.5</text><rect class="y" x="967.7" y="1187.5" width="19" height="10.5"/><text class="t" x="977.2" y="1195.3">no</text></g>
<g id="t41-2"><text class="sp" x="876.5" y="1250.5">small &lt; 1.5</text></g>
<g id="t41-3"><use href="#L1" x="970.3" y="1246.3"/></g>
<g id="t41-4"><use href="#L0" x="833.4" y="1302.6"/></g>
<g id="t41-5"><use href="#L1" x="918.7" y="1302.6"/></g>
</g>
<g id="t42">
<g id="t42-1"><rect class="y" x="1008.1" y="1177.5" width="24" height="10.5"/><text class="t" x="1020.1" y="1185.3">yes</text><text class="sp" x="1079.5" y="1184.2">relative &gt;= 0.37</text><rect class="y" x="1127" y="1177.5" width="19" height="10.5"/><text class="t" x="1136.5" y="1185.3">no</text></g>
<g id="t42-2"><use href="#L0" x="1033.8" y="1224.8"/></g>
<g id="t42-3"><text class="sp" x="1125" y="1229">differen &gt;= 6</text></g>
<g id="t42-4"><text class="sp" x="1079.5" y="1273.8">large &lt; 36</text></g>
<g id="t42-5"><use href="#L1" x="1170.3" y="1269.6"/></g>
<g id="t42-6"><use href="#L0" x="1037.5" y="1314.4"/></g>
<g id="t42-7"><use href="#L1" x="1120.8" y="1314.4"/></g>
</g>

<g id="t43">
<g id="t43-1"><rect class="y" x="53.9" y="1373" width="24" height="10.5"/><text class="t" x="65.9" y="1380.8">yes</text><text class="sp" x="123" y="1379.7">differen &gt;= 3.5</text><rect class="y" x="168.2" y="1373" width="19" height="10.5"/><text class="t" x="177.7" y="1380.8">no</text></g>
<g id="t43-2"><text class="sp" x="75.5" y="1424.5">differen &gt;= 5.5</text></g>
<g id="t43-3"><use href="#L1" x="166" y="1420.3"/></g>
<g id="t43-4"><use href="#L0" x="29.2" y="1465.1"/></g>
<g id="t43-5"><text class="sp" x="120.4" y="1469.3">small &lt; 12</text></g>
<g id="t43-6"><use href="#L0" x="79.8" y="1509.9"/></g>
<g id="t43-7"><use href="#L1" x="160.6" y="1509.9"/></g>
</g>
<g id="t44">
<g id="t44-1"><rect class="y" x="216.8" y="1384" width="24" height="10.5"/><text class="t" x="228.8" y="1391.8">yes</text><text class="sp" x="277" y="1390.7">ratio &lt; 0.63</text><rect class="y" x="313.3" y="1384" width="19" height="10.5"/><text class="t" x="322.8" y="1391.8">no</text></g>
<g id="t44-2"><use href="#L0" x="230.3" y="1442"/></g>
<g id="t44-3"><text class="sp" x="323.8" y="1446.2">differen &gt;= 8</text></g>
<g id="t44-4"><use href="#L0" x="282.3" y="1498"/></g>
<g id="t44-5"><use href="#L1" x="366.3" y="1498"/></g>
</g>
<g id="t45">
<g id="t45-1"><rect class="y" x="407.9" y="1373" width="24" height="10.5"/><text class="t" x="419.9" y="1380.8">yes</text><text class="sp" x="477" y="1379.7">differen &gt;= 5.5</text><rect class="y" x="522.2" y="1373" width="19" height="10.5"/><text class="t" x="531.7" y="1380.8">no</text></g>
<g id="t45-2"><use href="#L0" x="431.5" y="1420.3"/></g>
<g id="t45-3"><text class="sp" x="522.5" y="1424.5">differen &gt;= 4.5</text></g>
<g id="t45-4"><text class="sp" x="477.5" y="1469.3">small &lt; 7.5</text></g>
<g id="t45-5"><use href="#L1" x="568" y="1465.1"/></g>
<g id="t45-6"><use href="#L0" x="435.5" y="1509.9"/></g>
<g id="t45-7"><use href="#L1" x="518.5" y="1509.9"/></g>
</g>
<g id="t46">
<g id="t46-1"><rect class="y" x="653.4" y="1384" width="24" height="10.5"/><text class="t" x="665.4" y="1391.8">yes</text><text class="sp" x="722.5" y="1390.7">differen &gt;= 8.5</text><rect class="y" x="767.2" y="1384" width="19" height="10.5"/><text class="t" x="776.7" y="1391.8">no</text></g>
<g id="t46-2"><text class="sp" x="675.5" y="1446.2">small &lt; 0.5</text></g>
<g id="t46-3"><use href="#L1" x="769.3" y="1442"/></g>
<g id="t46-4"><use href="#L0" x="632.4" y="1498"/></g>
<g id="t46-5"><use href="#L1" x="717.7" y="1498"/></g>
</g>
<g id="t47">
<g id="t47-1"><rect class="y" x="840.3" y="1373" width="24" height="10.5"/><text class="t" x="852.3" y="1380.8">yes</text><text class="sp" x="900.5" y="1379.7">ratio &lt; 0.45</text><rect class="y" x="936.8" y="1373" width="19" height="10.5"/><text class="t" x="946.3" y="1380.8">no</text></g>
<g id="t47-2"><text class="sp" x="857.5" y="1424.5">large &gt;= 2.5</text></g>
<g id="t47-3"><text class="sp" x="944" y="1424.5">differen &gt;= 6</text></g>
<g id="t47-4"><use href="#L0" x="837" y="1465.1"/></g>
<g id="t47-5"><use href="#L1" x="876" y="1465.1"/></g>
<g id="t47-6"><text class="sp" x="922" y="1469.3">small &lt; 16</text></g>
<g id="t47-7"><use href="#L1" x="965.5" y="1465.1"/></g>
<g id="t47-8"><use href="#L0" x="903" y="1509.9"/></g>
<g id="t47-9"><use href="#L1" x="940.6" y="1509.9"/></g>
</g>
<g id="t48">
<g id="t48-1"><rect class="y" x="1056.9" y="1384" width="24" height="10.5"/><text class="t" x="1068.9" y="1391.8">yes</text><text class="sp" x="1126" y="1390.7">differen &gt;= 4.5</text><rect class="y" x="1170.7" y="1384" width="19" height="10.5"/><text class="t" x="1180.2" y="1391.8">no</text></g>
<g id="t48-2"><text class="sp" x="1078.8" y="1446.2">ratio &lt; 0.78</text></g>
<g id="t48-3"><use href="#L1" x="1170.5" y="1442"/></g>
<g id="t48-4"><use href="#L0" x="1034.2" y="1498"/></g>
<g id="t48-5"><use href="#L1" x="1122.7" y="1498"/></g>
</g>

<g id="t49">
<g id="t49-1"><rect class="y" x="6.9" y="1578" width="24" height="10.5"/><text class="t" x="18.9" y="1585.8">yes</text><text class="sp" x="76" y="1584.7">differen &gt;= 3.5</text><rect class="y" x="121.2" y="1578" width="19" height="10.5"/><text class="t" x="130.7" y="1585.8">no</text></g>
<g id="t49-2"><use href="#L0" x="29.5" y="1636.5"/></g>
<g id="t49-3"><text class="sp" x="123" y="1640.7">large &gt;= 11</text></g>
<g id="t49-4"><use href="#L0" x="81.5" y="1692.5"/></g>
<g id="t49-5"><use href="#L1" x="166" y="1692.5"/></g>
</g>
<g id="t50">
<g id="t50-1"><rect class="y" x="252.9" y="1567.5" width="24" height="10.5"/><text class="t" x="264.9" y="1575.3">yes</text><text class="sp" x="322" y="1574.2">differen &gt;= 6.5</text><rect class="y" x="366.7" y="1567.5" width="19" height="10.5"/><text class="t" x="376.2" y="1575.3">no</text></g>
<g id="t50-2"><text class="sp" x="276.5" y="1618.9">small &lt; 16</text></g>
<g id="t50-3"><use href="#L1" x="367" y="1614.7"/></g>
<g id="t50-4"><use href="#L0" x="230.2" y="1659.4"/></g>
<g id="t50-5"><text class="sp" x="321.4" y="1663.6">large &gt;= 36</text></g>
<g id="t50-6"><use href="#L0" x="280.8" y="1704"/></g>
<g id="t50-7"><use href="#L1" x="361.6" y="1704"/></g>
</g>
<g id="t51">
<g id="t51-1"><rect class="y" x="453.9" y="1567.5" width="24" height="10.5"/><text class="t" x="465.9" y="1575.3">yes</text><text class="sp" x="523" y="1574.2">differen &gt;= 4.5</text><rect class="y" x="567.7" y="1567.5" width="19" height="10.5"/><text class="t" x="577.2" y="1575.3">no</text></g>
<g id="t51-2"><text class="sp" x="476.8" y="1618.9">ratio &lt; 0.71</text></g>
<g id="t51-3"><use href="#L1" x="568" y="1614.7"/></g>
<g id="t51-4"><use href="#L0" x="431" y="1659.4"/></g>
<g id="t51-5"><text class="sp" x="523" y="1663.6">differen &gt;= 8</text></g>
<g id="t51-6"><use href="#L0" x="481" y="1704"/></g>
<g id="t51-7"><use href="#L1" x="562" y="1704"/></g>
</g>
<g id="t52">
<g id="t52-1"><rect class="y" x="654.9" y="1567.5" width="24" height="10.5"/><text class="t" x="666.9" y="1575.3">yes</text><text class="sp" x="724" y="1574.2">differen &gt;= 3.5</text><rect class="y" x="768.7" y="1567.5" width="19" height="10.5"/><text class="t" x="778.2" y="1575.3">no</text></g>
<g id="t52-2"><text class="sp" x="676.8" y="1618.9">ratio &lt; 0.55</text></g>
<g id="t52-3"><use href="#L1" x="768.5" y="1614.7"/></g>
<g id="t52-4"><use href="#L0" x="632" y="1659.4"/></g>
<g id="t52-5"><text class="sp" x="722.6" y="1663.6">small &gt;= 12</text></g>
<g id="t52-6"><use href="#L0" x="681.4" y="1704"/></g>
<g id="t52-7"><use href="#L1" x="763" y="1704"/></g>
</g>
</svg>
